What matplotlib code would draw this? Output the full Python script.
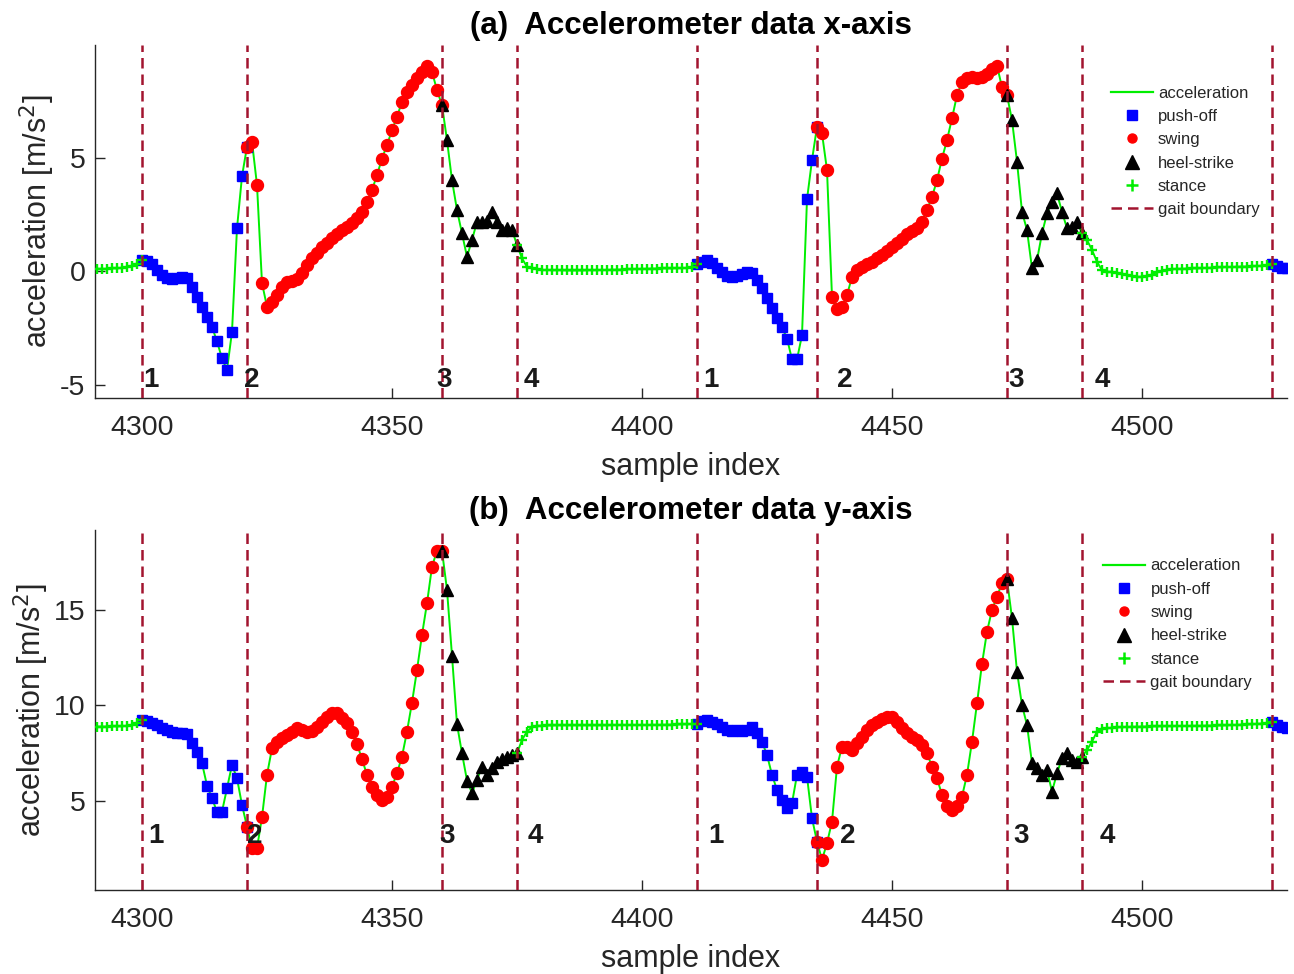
import numpy as np
import matplotlib
matplotlib.use("Agg")
import matplotlib.pyplot as plt
from matplotlib.lines import Line2D

plt.rcParams['font.family'] = ['Liberation Sans', 'DejaVu Sans']
plt.rcParams['axes.unicode_minus'] = False

# ---------------- data ----------------
first_sample = 4291

# (a) x-axis acceleration [m/s^2], one value per sample from 4291 to 4529
acc_x = [
    0.10, 0.10, 0.10, 0.12, 0.12, 0.15, 0.18, 0.22, 0.30,                      # 4291-4299
    0.48, 0.45, 0.32, 0.05, -0.18, -0.32, -0.35, -0.32, -0.28, -0.32,          # 4300
    -0.70, -1.15, -1.60, -2.00, -2.45, -3.10, -3.84, -4.36, -2.67, 1.89,       # 4310
    4.18, 5.48, 5.70, 3.79, -0.53, -1.57, -1.35, -1.06, -0.69, -0.47,          # 4320
    -0.42, -0.35, -0.10, 0.26, 0.56, 0.81, 1.04, 1.25, 1.44, 1.63,             # 4330
    1.81, 1.95, 2.10, 2.32, 2.61, 3.05, 3.57, 4.23, 4.96, 5.55,                # 4340
    6.21, 6.80, 7.46, 7.90, 8.19, 8.49, 8.78, 9.05, 8.78, 7.97,                # 4350
    7.31, 5.77, 4.00, 2.69, 1.66, 0.63, 1.37, 2.17, 2.17, 2.20,                # 4360
    2.61, 2.17, 1.81, 1.90, 1.81, 1.15, 0.56, 0.19, 0.15, 0.08,                # 4370
    0.05, 0.05, 0.04, 0.04, 0.04, 0.03, 0.03, 0.03, 0.03, 0.04,                # 4380
    0.04, 0.04, 0.05, 0.05, 0.06, 0.06, 0.07, 0.08, 0.08, 0.09,                # 4390
    0.10, 0.10, 0.11, 0.11, 0.12, 0.12, 0.12, 0.13, 0.13, 0.14,                # 4400
    0.16, 0.30, 0.41, 0.48, 0.35, 0.15, -0.05, -0.20, -0.25, -0.22,            # 4410
    -0.12, -0.02, -0.10, -0.40, -0.75, -1.20, -1.63, -2.08, -2.48, -2.97,      # 4420
    -3.89, -3.89, -2.82, 3.16, 4.89, 6.36, 6.07, 4.45, -1.13, -1.69,           # 4430
    -1.60, -1.06, -0.25, 0.04, 0.19, 0.31, 0.41, 0.56, 0.70, 0.89,             # 4440
    1.07, 1.22, 1.41, 1.63, 1.78, 1.92, 2.17, 2.69, 3.27, 4.00,                # 4450
    4.96, 5.77, 6.73, 7.75, 8.34, 8.50, 8.56, 8.52, 8.56, 8.70,                # 4460
    8.90, 9.05, 8.10, 7.75, 6.65, 4.82, 2.61, 1.81, 0.12, 0.48,                # 4470
    1.66, 2.54, 3.05, 3.42, 2.61, 1.88, 1.95, 2.17, 1.66, 1.37,                # 4480
    0.93, 0.41, 0.04, -0.03, -0.03, -0.08, -0.12, -0.18, -0.22, -0.25,         # 4490
    -0.25, -0.22, -0.15, -0.05, 0.02, 0.05, 0.08, 0.10, 0.10, 0.11,            # 4500
    0.12, 0.12, 0.13, 0.14, 0.15, 0.16, 0.17, 0.18, 0.18, 0.19,                # 4510
    0.20, 0.20, 0.21, 0.22, 0.24, 0.28, 0.31, 0.22, 0.15, 0.13,                # 4520
]

# (b) y-axis acceleration [m/s^2]
acc_y = [
    8.88, 8.88, 8.88, 8.89, 8.89, 8.90, 8.92, 8.96, 9.05,                      # 4291-4299
    9.23, 9.18, 9.05, 8.96, 8.79, 8.70, 8.62, 8.57, 8.53, 8.50,                # 4300
    8.00, 7.57, 6.96, 5.79, 5.12, 4.42, 4.42, 5.65, 6.87, 6.17,                # 4310
    4.77, 3.63, 2.50, 2.50, 4.13, 6.35, 7.74, 8.09, 8.27, 8.44,                # 4320
    8.62, 8.79, 8.70, 8.62, 8.67, 8.88, 9.14, 9.40, 9.61, 9.61,                # 4330
    9.31, 9.05, 8.62, 7.97, 7.17, 6.35, 5.73, 5.30, 5.04, 5.21,                # 4340
    5.73, 6.43, 7.31, 8.62, 10.14, 11.85, 13.69, 15.35, 17.27, 18.10,          # 4350
    18.10, 16.05, 12.60, 9.00, 7.48, 6.05, 5.39, 6.08, 6.78, 6.34,             # 4360
    6.69, 7.04, 7.16, 7.26, 7.38, 7.48, 8.18, 8.62, 8.85, 8.92,                # 4370
    8.93, 8.94, 8.94, 8.95, 8.95, 8.95, 8.95, 8.95, 8.95, 8.95,                # 4380
    8.95, 8.95, 8.95, 8.95, 8.96, 8.96, 8.96, 8.96, 8.96, 8.96,                # 4390
    8.96, 8.96, 8.97, 8.97, 8.97, 8.98, 8.98, 8.99, 9.00, 9.00,                # 4400
    9.02, 9.04, 9.18, 9.20, 9.12, 9.00, 8.85, 8.70, 8.67, 8.70,                # 4410
    8.67, 8.72, 8.84, 8.53, 8.09, 7.39, 6.35, 5.56, 5.04, 4.60,                # 4420
    4.86, 6.35, 6.52, 6.26, 4.07, 2.85, 1.89, 2.77, 3.90, 6.78,                # 4430
    7.83, 7.83, 7.66, 8.00, 8.36, 8.70, 8.97, 9.14, 9.30, 9.40,                # 4440
    9.36, 9.14, 8.79, 8.53, 8.33, 8.18, 7.92, 7.48, 6.78, 6.17,                # 4450
    5.30, 4.69, 4.51, 4.69, 5.21, 6.35, 8.09, 10.10, 12.17, 13.86,             # 4460
    15.00, 15.70, 16.40, 16.60, 14.56, 11.76, 10.00, 8.97, 6.96, 6.70,         # 4470
    6.35, 6.61, 5.47, 6.43, 7.22, 7.48, 7.13, 7.04, 7.30, 7.66,                # 4480
    8.09, 8.62, 8.74, 8.79, 8.82, 8.84, 8.85, 8.86, 8.87, 8.87,                # 4490
    8.88, 8.88, 8.89, 8.89, 8.90, 8.90, 8.90, 8.91, 8.91, 8.91,                # 4500
    8.92, 8.92, 8.92, 8.93, 8.93, 8.94, 8.94, 8.95, 8.96, 8.97,                # 4510
    8.98, 8.99, 9.00, 9.02, 9.04, 9.08, 9.12, 8.97, 8.85, 8.80,                # 4520
]

# gait boundaries (sample index) and phase numbers
boundaries = [4300, 4321, 4360, 4375, 4411, 4435, 4473, 4488, 4526]
phase_numbers = ['1', '2', '3', '4', '1', '2', '3', '4']

titles = ['(a)  Accelerometer data x-axis', '(b)  Accelerometer data y-axis']
x_ticks = [4300, 4350, 4400, 4450, 4500]
y_ticks = [[-5, 0, 5], [5, 10, 15]]

# ---------------- layout / style ----------------
W, H = 1294, 974
GREEN = '#00ee00'
BOUND = '#A2142F'
AXC = '#262626'

label_x = [[4300.2, 4320.5, 4358.9, 4376.4, 4412.2, 4439.1, 4473.2, 4490.5],
           [4301.2, 4321.1, 4359.5, 4377.2, 4413.2, 4439.7, 4474.2, 4491.5]]
label_y = [-5.11, 2.80]
ylims = [(-5.59, 9.96), (0.31, 19.19)]
xlim = (4290.6, 4529.0)
ax_rects = [[95 / W, 1 - 398 / H, 1192 / W, 353 / H],
            [95 / W, 1 - 890 / H, 1192 / W, 360 / H]]
legend_anchor = [(0.852, 0.885), (0.8456, 0.921)]

samples = np.arange(first_sample, first_sample + len(acc_x))


def phase_masks(s):
    b = boundaries
    push = s >= b[8]
    swing = np.zeros(s.shape, bool)
    heel = np.zeros(s.shape, bool)
    stance = (s <= b[0]) | (s == b[8])
    for k in (0, 4):
        push |= (s >= b[k]) & (s <= b[k + 1])
        swing |= (s >= b[k + 1]) & (s <= b[k + 2])
        heel |= (s >= b[k + 2]) & (s <= b[k + 3])
        stance |= (s >= b[k + 3]) & (s <= b[k + 4])
    return push, swing, heel, stance


fig = plt.figure(figsize=(W / 100, H / 100), dpi=100)

for i, vals in enumerate([acc_x, acc_y]):
    v = np.array(vals)
    ax = fig.add_axes(ax_rects[i])
    push, swing, heel, stance = phase_masks(samples)

    ax.plot(samples, v, color=GREEN, lw=1.4, zorder=2)
    ax.plot(samples[push], v[push], 's', color='#0000ff', ms=7, mec='#0000ff', ls='none', zorder=3)
    ax.plot(samples[swing], v[swing], 'o', color='#ff0000', ms=8.6, mec='#ff0000', ls='none', zorder=4)
    ax.plot(samples[heel], v[heel], '^', color='black', ms=9.2, ls='none', zorder=5)
    ax.plot(samples[stance], v[stance], '+', color=GREEN, ms=7.5, mew=1.7, ls='none', zorder=6)

    for b in boundaries:
        ax.axvline(b, color=BOUND, lw=1.8, ls=(0, (4.2, 2.4)), zorder=7)

    for xt, t in zip(label_x[i], phase_numbers):
        ax.text(xt, label_y[i], t, fontsize=20, fontweight='bold',
                color='#1a1a1a', ha='left', va='baseline', zorder=8)

    ax.set_xlim(*xlim)
    ax.set_ylim(*ylims[i])
    ax.set_xticks(x_ticks)
    ax.set_yticks(y_ticks[i])
    for side in ('top', 'right'):
        ax.spines[side].set_visible(False)
    for side in ('left', 'bottom'):
        ax.spines[side].set_color(AXC)
        ax.spines[side].set_linewidth(1.0)
    ax.tick_params(direction='in', length=7, width=1, colors=AXC, labelsize=20.5)
    ax.tick_params(axis='x', pad=12)
    ax.tick_params(axis='y', pad=7)
    ax.set_xlabel('sample index', fontsize=22, color=AXC, labelpad=8)
    ax.set_ylabel('acceleration [m/s$^2$]', fontsize=22, color=AXC, labelpad=2)
    ax.set_title(titles[i], fontsize=22.5, fontweight='bold', color='black', pad=8)

    handles = [
        Line2D([], [], color=GREEN, lw=1.6),
        Line2D([], [], marker='s', color='#0000ff', ls='none', ms=7),
        Line2D([], [], marker='o', color='#ff0000', ls='none', ms=6.5),
        Line2D([], [], marker='^', color='black', ls='none', ms=10),
        Line2D([], [], marker='+', color=GREEN, ls='none', ms=8, mew=1.8),
        Line2D([], [], color=BOUND, lw=1.8, ls=(0, (4.2, 2.4))),
    ]
    labels = ['acceleration', 'push-off', 'swing', 'heel-strike', 'stance', 'gait boundary']
    leg = ax.legend(handles, labels, loc='upper left', bbox_to_anchor=legend_anchor[i],
                    frameon=False, fontsize=12, handlelength=2.55, handletextpad=0.3,
                    labelspacing=0.5, borderpad=0, borderaxespad=0)
    for t in leg.get_texts():
        t.set_color(AXC)

fig.savefig('out.png', dpi=100)
